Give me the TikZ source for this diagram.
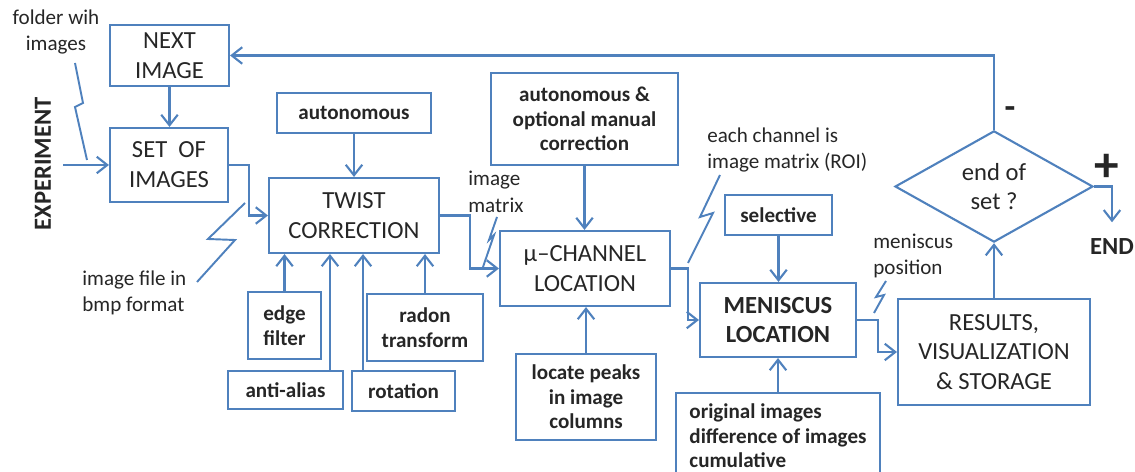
\documentclass[tikz,border=0pt]{standalone}
\usepackage{fontspec}
\setmainfont{Carlito}
\usetikzlibrary{arrows.meta,shapes.geometric}

\begin{document}
\begin{tikzpicture}[x=0.02cm, y=-0.02cm,
  blk/.style={draw=flow, line width=1.2pt, align=center, inner sep=2pt, text=ink},
  big/.style={font=\fontsize{14}{17}\selectfont},
  small/.style={font=\fontsize{12}{14}\selectfont\bfseries},
  lab/.style={text=ink, align=left, inner sep=0pt, font=\fontsize{12}{15}\selectfont},
  arr/.style={draw=flow, line width=1.2pt, -{Straight Barb[length=2.1mm,width=3.3mm]}},
  zig/.style={draw=flow, line width=1.1pt}]
% Colors
\definecolor{flow}{RGB}{79,129,189}
\definecolor{ink}{RGB}{38,38,38}

\useasboundingbox (0,0) rectangle (1135,472);

% Input side
\node[text=ink, rotate=90, font=\fontsize{14}{17}\selectfont\bfseries] (exp) at (43,164) {EXPERIMENT};
\node[lab, align=center] (folder) at (56,32) {folder wih\\images};
\coordinate (expin) at (63,165);

% Image loading
\node[blk, big, minimum width=2.38cm, minimum height=1.22cm] (next) at (169.5,55.5) {NEXT\\IMAGE};
\node[blk, big, minimum width=2.36cm, minimum height=1.48cm] (set) at (169,165) {SET\ \ OF\\IMAGES};
\node[lab, anchor=west] (bmp) at (82,293) {image file in\\bmp format};

% Twist correction and its tools
\node[blk, small, minimum width=3.08cm, minimum height=0.8cm] (auto) at (354,113) {autonomous};
\node[blk, big, minimum width=3.4cm, minimum height=1.5cm] (twist) at (354,215.5) {TWIST\\CORRECTION};
\node[blk, small, minimum width=1.46cm, minimum height=1.34cm] (edge) at (284.5,325.5) {edge\\filter};
\node[blk, small, minimum width=2.3cm, minimum height=0.76cm] (alias) at (285.5,390) {anti-alias};
\node[blk, small, minimum width=2.06cm, minimum height=0.8cm] (rot) at (403.5,391) {rotation};
\node[blk, small, minimum width=2.32cm, minimum height=1.34cm] (radon) at (425,327.5) {radon\\transform};
\coordinate (aliastop) at ([xshift=0.89cm]alias.north);
\coordinate (rottop) at ([xshift=-0.81cm]rot.north);

% Channel location
\node[lab, anchor=west] (imat) at (468,192) {image\\matrix};
\node[blk, small, minimum width=3.74cm, minimum height=1.84cm] (manual) at (584.5,119) {autonomous \&\\optional manual\\correction};
\node[blk, big, minimum width=3.4cm, minimum height=1.5cm] (chan) at (585,268.5) {µ–CHANNEL\\LOCATION};
\node[blk, small, minimum width=2.8cm, minimum height=1.72cm] (peaks) at (586,397) {locate peaks\\in image\\columns};

% Meniscus location
\node[lab, anchor=west] (roi) at (707,150) {each channel is\\image matrix (ROI)};
\node[blk, small, minimum width=2.14cm, minimum height=0.8cm] (sel) at (778.5,215) {selective};
\node[blk, font=\fontsize{14}{17}\selectfont\bfseries, minimum width=3.12cm, minimum height=1.48cm] (men) at (778,320) {MENISCUS\\LOCATION};
\node[blk, small, align=left, minimum width=4.08cm, minimum height=1.72cm] (orig) at (778,436) {original images\\difference of images\\cumulative};

% Results and decision
\node[lab, anchor=west] (menpos) at (873,256) {meniscus\\position};
\node[blk, big, minimum width=3.84cm, minimum height=2.12cm] (res) at (994,352) {RESULTS,\\VISUALIZATION\\\& STORAGE};
\node[blk, big, diamond, inner sep=0pt, minimum width=3.96cm, minimum height=2.22cm] (dec) at (994,186.5) {end of\\set ?};
\node[text=ink, font=\fontsize{20}{20}\selectfont\bfseries] (minus) at (1010,113) {-};
\node[text=ink, font=\fontsize{28}{28}\selectfont\bfseries] (plus) at (1107,168) {+};
\node[text=ink, font=\fontsize{14}{17}\selectfont\bfseries] (end) at (1112,247) {END};

% Flow arrows
\draw[arr] (expin) -- (set.west);
\draw[arr] (next.south) -- (next.south |- set.north);
\draw[arr] (set.east) -- ++(20,0) |- (twist.west);
\draw[arr] (auto.south) -- (twist.north);
\draw[arr] (edge.north) -- (edge.north |- twist.south);
\draw[arr] (aliastop) -- (aliastop |- twist.south);
\draw[arr] (rottop) -- (rottop |- twist.south);
\draw[arr] (radon.north) -- (radon.north |- twist.south);
\draw[arr] (twist.east) -- ++(30,0) |- (chan.west);
\draw[arr] (manual.south) -- (manual.south |- chan.north);
\draw[arr] (peaks.north) -- (peaks.north |- chan.south);
\draw[arr] (chan.east) -- ++(17,0) |- (men.west);
\draw[arr] (sel.south) -- (sel.south |- men.north);
\draw[arr] (orig.north) -- (orig.north |- men.south);
\draw[arr] (men.east) -- ++(21,0) |- (res.west);
\draw[arr] (res.north) -- (dec.south);
\draw[arr] (dec.north) |- (next.east);
\draw[arr, shorten >=6pt] (dec.east) -| (end.north);

% Zigzag pointers
\draw[zig] (75,63) -- (83,103) -- (75,107) -- (87,160);
\draw[zig] (245,203) -- (208,239) -- (235,240) -- (197,282);
\draw[zig] (497,217) -- (489,240) -- (494,235) -- (483,267);
\draw[zig] (720,175) -- (700,217) -- (713,213) -- (688,263);
\draw[zig] (886,281) -- (876,297) -- (884,295) -- (874,313);

\end{tikzpicture}
\end{document}
